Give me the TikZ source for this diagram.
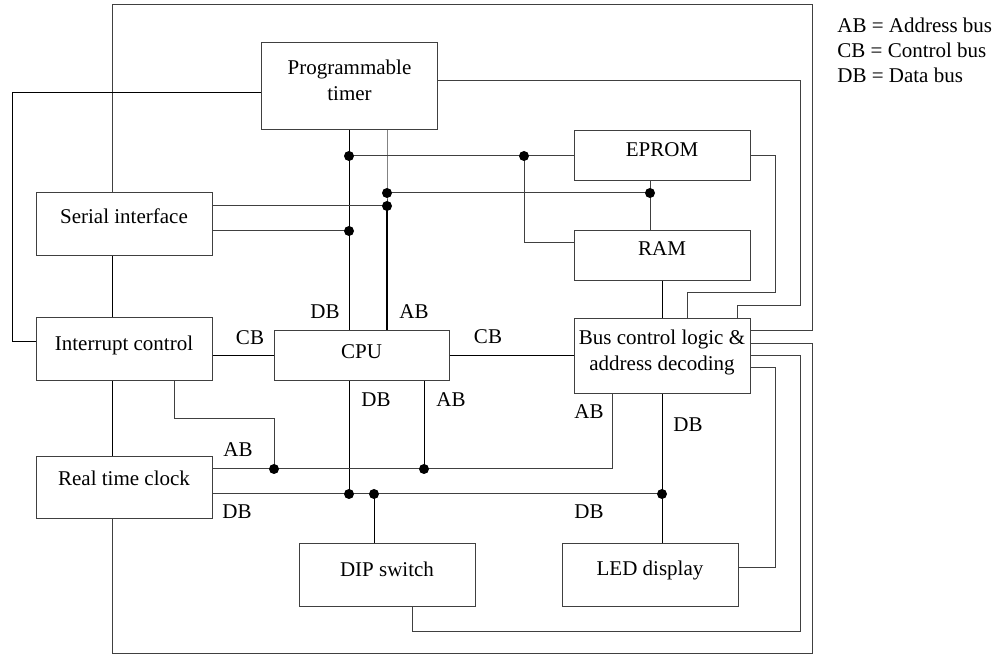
\documentclass[tikz,border=0pt]{standalone}
\usepackage{fontspec}
\setmainfont{Liberation Serif}
\begin{document}
\begin{tikzpicture}[x=0.5pt,y=-0.5pt,
  font=\fontsize{10.5}{13}\selectfont,
  wire/.style={draw=black!75, line width=0.5pt},
  bwire/.style={draw=black, line width=0.5pt},
  abwire/.style={draw=black, line width=1pt},
  blk/.style={draw=black!75, line width=0.5pt, inner sep=0pt, minimum width=88pt},
  jn/.style={circle, fill=black, inner sep=0pt, minimum size=5pt},
  tag/.style={inner sep=0pt}]
\useasboundingbox (0,0) rectangle (1003,657);

% functional blocks
\node[blk, minimum height=43.5pt, label={[yshift=3.25pt, align=center]center:Programmable\\timer}] (timer) at (349.5,86.5) {};
\node[blk, minimum height=25pt, label={[yshift=3pt]center:EPROM}] (eprom) at (662,156) {};
\node[blk, minimum height=25pt, label={[yshift=3.5pt]center:RAM}] (ram) at (662,256) {};
\node[blk, minimum height=37.5pt, label={[yshift=2pt, align=center]center:Bus control logic \&\\address decoding}] (bus) at (662,356.5) {};
\node[blk, minimum height=31.5pt, label={[yshift=4.25pt]center:Serial interface}] (serial) at (124,224.5) {};
\node[blk, minimum height=31.5pt, label={[yshift=2.25pt]center:Interrupt control}] (intr) at (124,349.5) {};
\node[blk, minimum height=31pt, label={[yshift=5pt]center:Real time clock}] (rtc) at (124,488) {};
\node[blk, minimum width=87.5pt, minimum height=25pt, label={[yshift=2pt]center:CPU}] (cpu) at (361.5,356) {};
\node[blk, minimum height=31.5pt, label={[yshift=3.25pt]center:DIP switch}] (dip) at (387,575.5) {};
\node[blk, minimum height=31.5pt, label={[yshift=2.75pt]center:LED display}] (led) at (650,575.5) {};

% junction points
\coordinate (ja) at (349,156);
\coordinate (jb) at (524,156);
\coordinate (jc) at (387,193);
\coordinate (jd) at (650,193);
\coordinate (je) at (387,206);
\coordinate (jf) at (349,231);
\coordinate (jg) at (274,469);
\coordinate (jh) at (424,469);
\coordinate (ji) at (349,494);
\coordinate (jj) at (374,494);
\coordinate (jk) at (662,494);

% bends
\coordinate (c1) at (812,331);
\coordinate (c2) at (812,5);
\coordinate (c3) at (112,5);
\coordinate (c4) at (812,344);
\coordinate (c5) at (812,654);
\coordinate (c6) at (112,654);
\coordinate (c7) at (12,342);
\coordinate (c8) at (12,93);
\coordinate (c9) at (800,81);
\coordinate (c10) at (800,306);
\coordinate (c11) at (737,306);
\coordinate (c12) at (775,156);
\coordinate (c13) at (775,293);
\coordinate (c14) at (687,293);
\coordinate (c15) at (800,356);
\coordinate (c16) at (800,632);
\coordinate (c17) at (412,632);
\coordinate (c18) at (775,368);
\coordinate (c19) at (775,568);
\coordinate (c20) at (524,243);
\coordinate (c21) at (174,419);
\coordinate (c22) at (274,419);
\coordinate (c23) at (612,469);

% select lines from the bus controller
\draw[wire] (bus.east |- c1) -- (c1) -- (c2) -- (c3) -- (c3 |- serial.north);
\draw[bwire] (c3 |- serial.south) -- (c3 |- intr.north);
\draw[bwire] (c3 |- intr.south) -- (c3 |- rtc.north);
\draw[wire] (bus.east |- c4) -- (c4) -- (c5) -- (c6) -- (c6 |- rtc.south);
\draw[bwire] (intr.west |- c7) -- (c7) -- (c8) -- (timer.west |- c8);
\draw[wire] (timer.east |- c9) -- (c9) -- (c10) -- (c11) -- (c11 |- bus.north);
\draw[wire] (eprom.east |- c12) -- (c12) -- (c13) -- (c14) -- (c14 |- bus.north);
\draw[wire] (bus.east |- c15) -- (c15) -- (c16) -- (c17) -- (c17 |- dip.south);
\draw[wire] (bus.east |- c18) -- (c18) -- (c19) -- (led.east |- c19);

% upper data and address buses
\draw[bwire] (ja |- timer.south) -- (ja |- cpu.north);
\draw[wire] (ja) -- (eprom.west |- ja);
\draw[wire] (jb) -- (c20) -- (ram.west |- c20);
\draw[wire] (jc |- timer.south) -- (jc) -- (je);
\draw[abwire] (je) -- (je |- cpu.north);
\draw[wire] (jc) -- (jd);
\draw[wire] (jd |- eprom.south) -- (jd |- ram.north);
\draw[wire] (serial.east |- je) -- (je);
\draw[wire] (serial.east |- jf) -- (jf);
\draw[bwire] (ram.south) -- (bus.north);

% control bus
\draw[bwire] (intr.east |- cpu.west) -- (cpu.west);
\draw[bwire] (cpu.east) -- (bus.west |- cpu.east);

% lower data and address buses
\draw[bwire] (ji |- cpu.south) -- (ji);
\draw[bwire] (jh |- cpu.south) -- (jh);
\draw[wire] (c21 |- intr.south) -- (c21) -- (c22) -- (jg);
\draw[wire] (rtc.east |- jg) -- (c23) -- (c23 |- bus.south);
\draw[wire] (rtc.east |- ji) -- (jk);
\draw[bwire] (jk |- bus.south) -- (jk |- led.north);
\draw[bwire] (jj) -- (jj |- dip.north);

% junction dots
\foreach \p in {ja,jb,jc,jd,je,jf,jg,jh,ji,jj,jk}
  \node[jn] (dot-\p) at (\p) {};

% bus labels
\node[tag] (t1) at (325,312) {DB};
\node[tag] (t2) at (414,312) {AB};
\node[tag] (t3) at (250,338) {CB};
\node[tag] (t4) at (488,337) {CB};
\node[tag] (t5) at (376,400) {DB};
\node[tag] (t6) at (451,400) {AB};
\node[tag] (t7) at (238,450) {AB};
\node[tag] (t8) at (237,512) {DB};
\node[tag] (t9) at (589,412) {AB};
\node[tag] (t10) at (589,512) {DB};
\node[tag] (t11) at (688,425) {DB};

% legend
\node[tag, anchor=west] (k1) at (837,25) {AB = Address bus};
\node[tag, anchor=west] (k2) at (837,50) {CB = Control bus};
\node[tag, anchor=west] (k3) at (837,75) {DB = Data bus};
\end{tikzpicture}
\end{document}
